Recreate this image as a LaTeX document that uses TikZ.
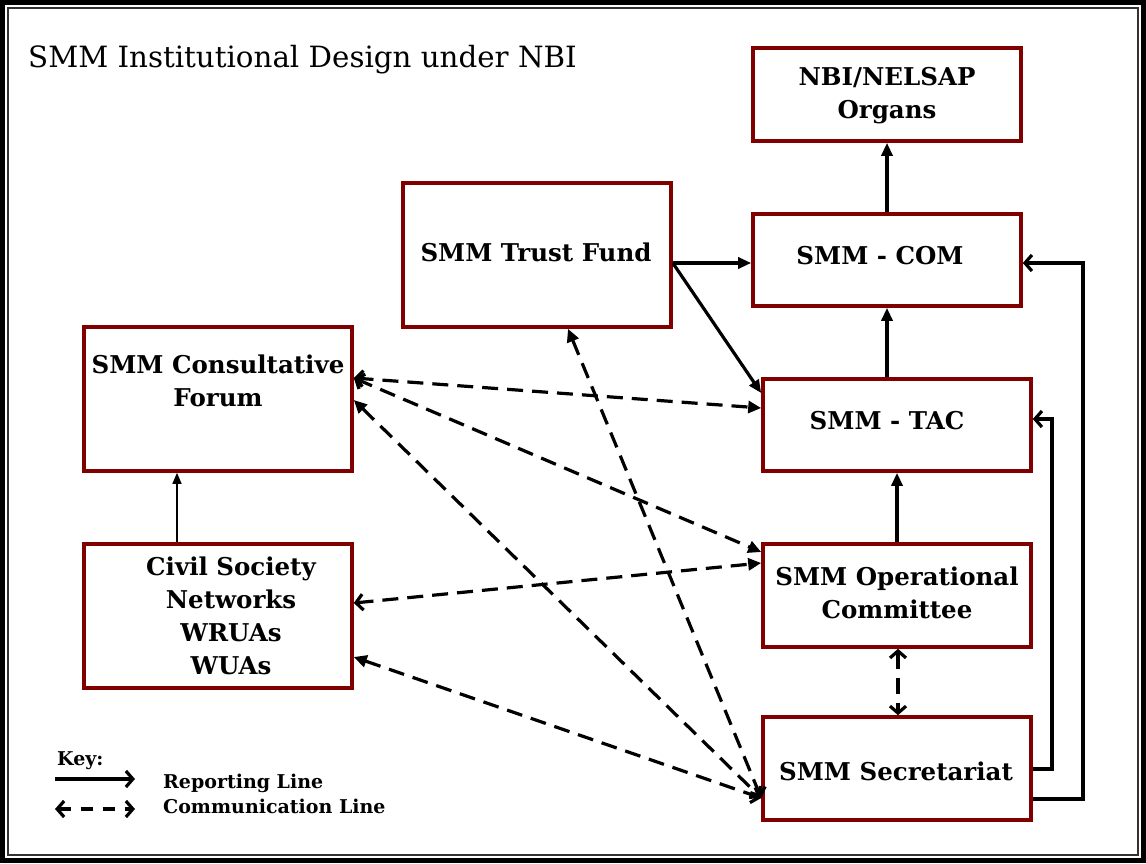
\documentclass[tikz,border=0pt]{standalone}
\usepackage{fontspec}
\setmainfont{DejaVu Serif}
\usetikzlibrary{arrows.meta}
\definecolor{boxred}{RGB}{128,0,0}
\tikzset{
  box/.style={draw=boxred, line width=3.6pt, minimum width=268pt, inner sep=0pt},
  txt/.style={align=center, font=\bfseries\fontsize{24.5}{33}\selectfont, inner sep=0pt},
  keytxt/.style={anchor=base west, font=\bfseries\fontsize{19}{22}\selectfont, inner sep=0pt},
  report/.style={line width=3.2pt, -{Triangle[length=13pt,width=11pt]}},
  openhead/.style={line width=3.2pt, -{Straight Barb[length=7pt,width=16pt,line width=3.2pt]}},
  comm/.style={line width=3.2pt, dash pattern=on 16pt off 9pt,
     {Straight Barb[length=7pt,width=16pt,line width=3.2pt]}-{Triangle[length=13pt,width=12pt]}},
  commopen/.style={line width=3.2pt, dash pattern=on 16pt off 9pt,
     {Triangle[length=13pt,width=12pt]}-{Straight Barb[length=7pt,width=16pt,line width=3.2pt]}},
  commboth/.style={line width=3.2pt, dash pattern=on 16pt off 9pt,
     {Straight Barb[length=7pt,width=16pt,line width=3.2pt]}-{Straight Barb[length=7pt,width=16pt,line width=3.2pt]}}
}
\begin{document}
\begin{tikzpicture}[x=1pt,y=-1pt]
\fill[white] (0,0) rectangle (1146,863);
\useasboundingbox (0,0) rectangle (1146,863);
% frame
\draw[line width=5pt] (2.5,2.5) rectangle (1143.5,860.5);
\draw[line width=1.5pt, black!80] (8,8) rectangle (1138,855);
% title
\node[anchor=base west, inner sep=0pt, font=\fontsize{29.3}{34}\selectfont] (title) at (28,67) {SMM Institutional Design under NBI};
% boxes
\node[box, minimum height=93pt] (nbi) at (887,94.5) {};
\node[txt] (nbit) at (887,96) {NBI/NELSAP\\Organs};
\node[box, minimum height=92pt] (com) at (887,260) {};
\node[txt] (comt) at (880,256) {SMM - COM};
\node[box, minimum height=144pt] (trust) at (537,255) {};
\node[txt] (trustt) at (536,252) {SMM Trust Fund};
\node[box, minimum height=92pt] (tac) at (897,425) {};
\node[txt] (tact) at (887,421) {SMM - TAC};
\node[box, minimum height=144pt] (forum) at (218,399) {};
\node[txt] (forumt) at (218,381) {SMM Consultative\\Forum};
\node[box, minimum height=144pt] (civil) at (218,616) {};
\node[txt] (civilt) at (231,616) {Civil Society\\Networks\\WRUAs\\WUAs};
\node[box, minimum height=103pt] (opc) at (897,595.5) {};
\node[txt] (opct) at (897,593) {SMM Operational\\Committee};
\node[box, minimum height=103pt] (sec) at (897,768.5) {};
\node[txt] (sect) at (896,771) {SMM Secretariat};
% reporting lines
\coordinate (comtop) at (887,214);
\draw[report] (com.north -| comtop) -- (nbi.south -| comtop);
\draw[report] (tac.north -| comtop) -- (com.south -| comtop);
\draw[report] (opc.north) -- (tac.south -| opc.north);
\coordinate (tfy) at (0,263);
\draw[report] (trust.east |- tfy) -- (com.west |- tfy);
\coordinate (tacy) at (0,393);
\draw[report] (trust.east |- tfy) -- (tac.west |- tacy);
\coordinate (cfx) at (177,0);
\draw[line width=1.3pt, -{Triangle[length=11pt,width=9pt]}] (civil.north -| cfx) -- (forum.south -| cfx);
\draw[openhead] (sec.east |- 0,769) -- (1052,769) -- (1052,419) -- (tac.east |- 0,419);
\draw[openhead] (sec.east |- 0,799) -- (1083,799) -- (1083,263) -- (com.east |- 0,263);
% communication lines
\draw[comm] (forum.east |- 0,378) -- (tac.west |- 0,408);
\draw[comm] (forum.east |- 0,378) -- (opc.west |- 0,552);
\draw[comm] (civil.east |- 0,603) -- (opc.west |- 0,563);
\draw[commopen] (forum.east |- 0,400) -- (sec.west |- 0,798);
\draw[commopen] (civil.east |- 0,657) -- (sec.west |- 0,798);
\draw[commopen] (trust.south -| 568,0) -- (sec.west |- 0,798);
\draw[commboth] (opc.south -| 898,0) -- (sec.north -| 898,0);
% key
\node[keytxt] (key) at (57,765) {Key:};
\coordinate (k1) at (55,779);
\coordinate (k2) at (135,779);
\coordinate (k3) at (55,809);
\coordinate (k4) at (135,809);
\draw[openhead] (k1) -- (k2);
\draw[commboth, dash pattern=on 12pt off 10pt] (k3) -- (k4);
\node[keytxt] (krep) at (163,788) {Reporting Line};
\node[keytxt] (kcom) at (163,813) {Communication Line};
\end{tikzpicture}
\end{document}
